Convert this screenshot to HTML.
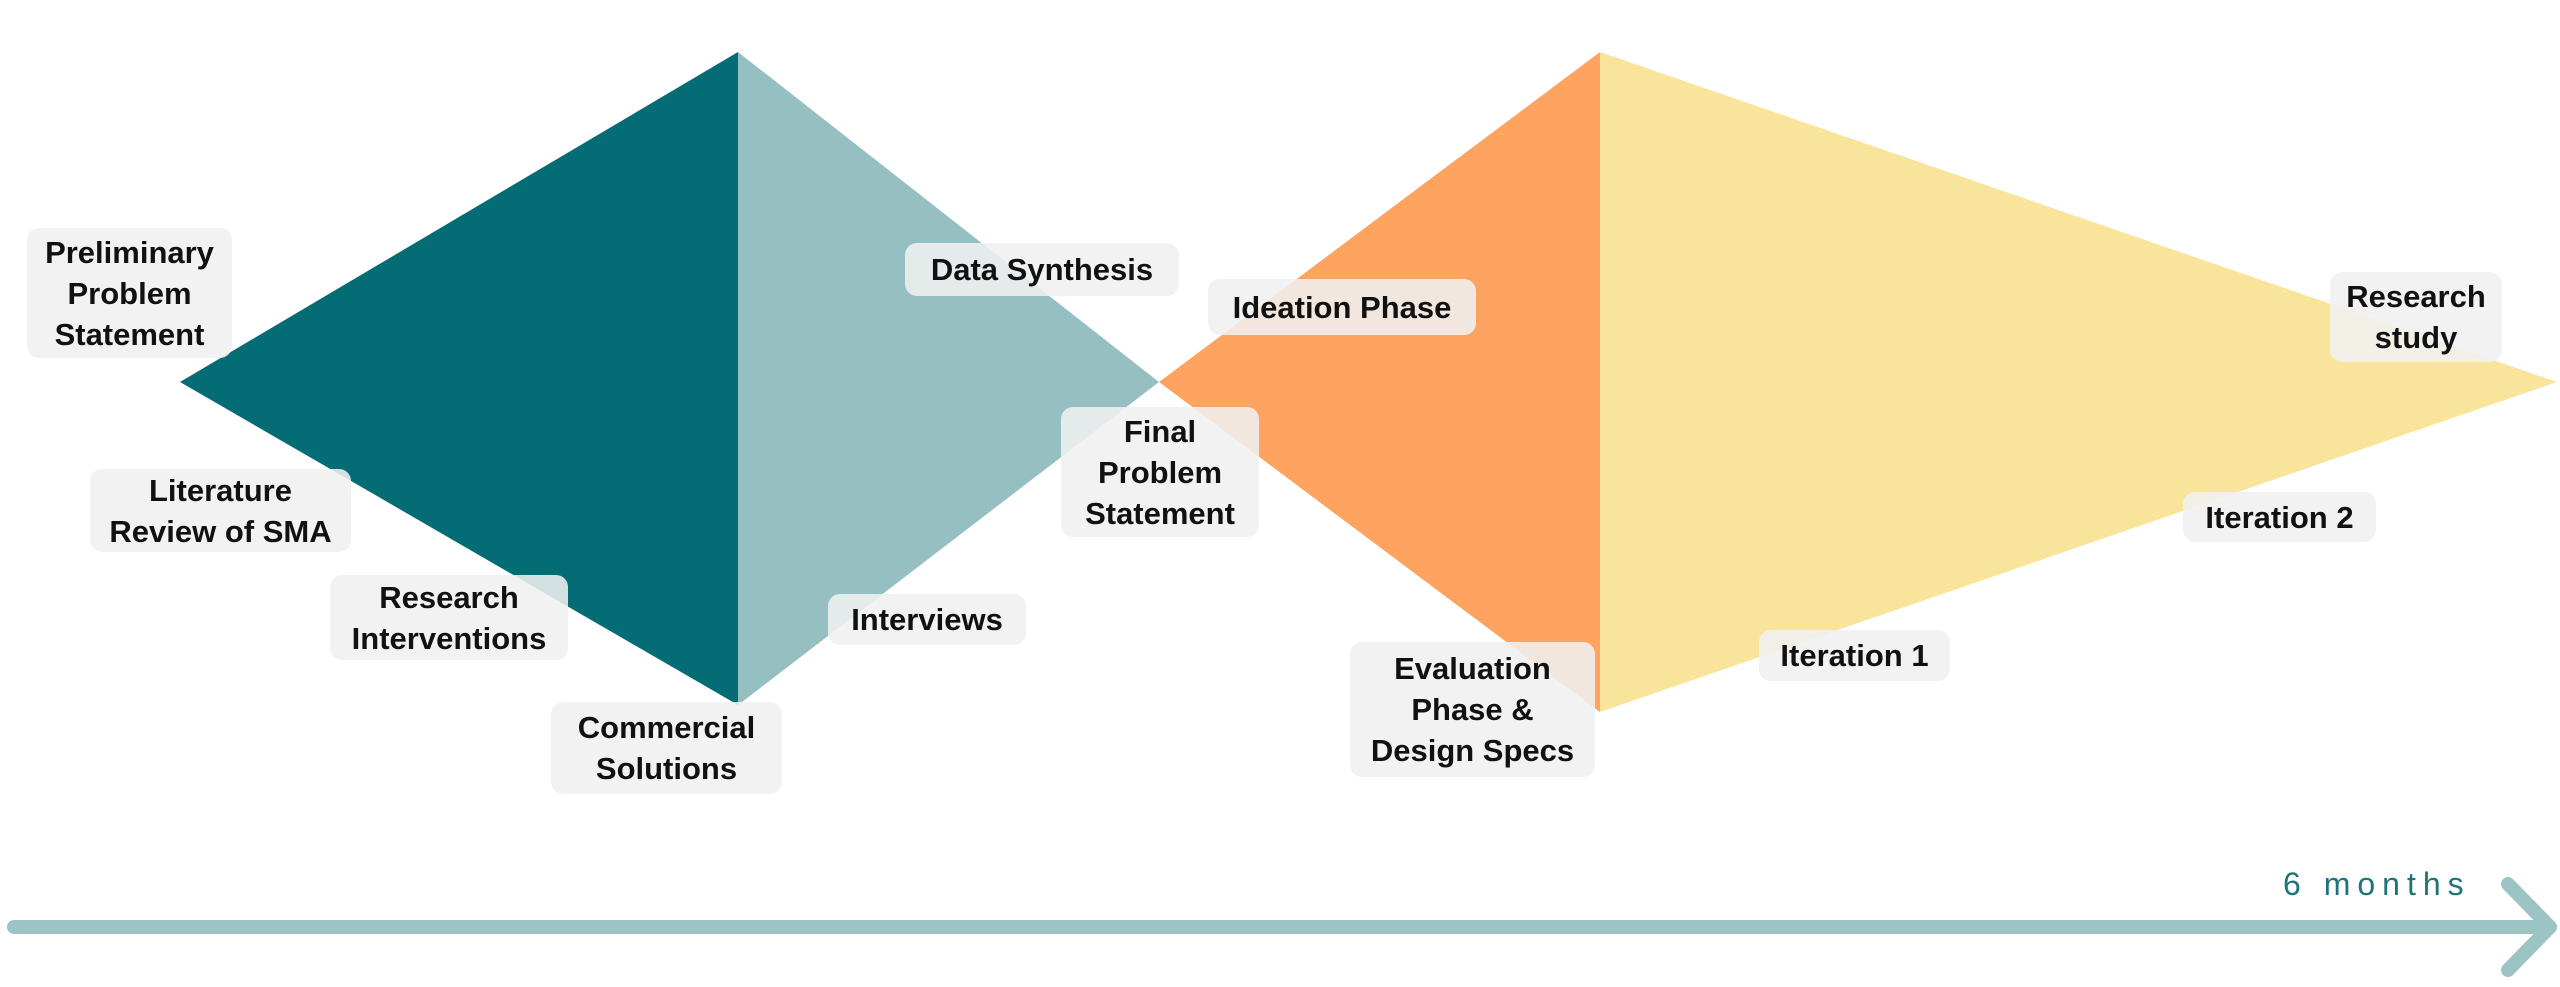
<!DOCTYPE html>
<html><head><meta charset="utf-8"><style>
html,body{margin:0;padding:0;background:#fff;}
body{width:2560px;height:987px;position:relative;overflow:hidden;font-family:"Liberation Sans",sans-serif;}
svg{position:absolute;left:0;top:0;}
.l{position:absolute;background:rgba(240,240,240,0.88);border-radius:12px;display:flex;align-items:center;justify-content:center;text-align:center;font-weight:bold;font-size:31px;line-height:41px;color:#111;box-sizing:border-box;white-space:nowrap;}
.m{position:absolute;left:2283px;top:866px;font-size:32px;color:#1f7479;letter-spacing:7px;}
</style></head><body>
<svg width="2560" height="987" viewBox="0 0 2560 987">
<polygon points="180,382 738,52 738,705" fill="#036c74"/>
<polygon points="738,52 1159,382 738,705" fill="#96bfc2"/>
<polygon points="1159,382 1600,52 1600,712" fill="#fea460"/>
<polygon points="1600,52 2557,382 1600,712" fill="#f9e49b"/>
<line x1="14" y1="927" x2="2550" y2="927" stroke="#9cc4c5" stroke-width="14" stroke-linecap="round"/>
<polyline points="2508,884 2550,927 2508,970" fill="none" stroke="#9cc4c5" stroke-width="14" stroke-linecap="round" stroke-linejoin="round"/>
</svg>
<div class="l" style="left:27px;top:228px;width:205px;height:130px;">Preliminary<br>Problem<br>Statement</div>
<div class="l" style="left:90px;top:469px;width:261px;height:83px;">Literature<br>Review of SMA</div>
<div class="l" style="left:330px;top:575px;width:238px;height:85px;">Research<br>Interventions</div>
<div class="l" style="left:551px;top:702px;width:231px;height:92px;">Commercial<br>Solutions</div>
<div class="l" style="left:905px;top:243px;width:274px;height:53px;">Data Synthesis</div>
<div class="l" style="left:828px;top:594px;width:198px;height:51px;">Interviews</div>
<div class="l" style="left:1061px;top:407px;width:198px;height:130px;">Final<br>Problem<br>Statement</div>
<div class="l" style="left:1208px;top:279px;width:268px;height:56px;">Ideation Phase</div>
<div class="l" style="left:1350px;top:642px;width:245px;height:135px;">Evaluation<br>Phase &amp;<br>Design Specs</div>
<div class="l" style="left:1759px;top:630px;width:191px;height:51px;">Iteration 1</div>
<div class="l" style="left:2183px;top:492px;width:193px;height:50px;">Iteration 2</div>
<div class="l" style="left:2330px;top:272px;width:172px;height:90px;">Research<br>study</div>
<div class="m">6 months</div>
</body></html>
